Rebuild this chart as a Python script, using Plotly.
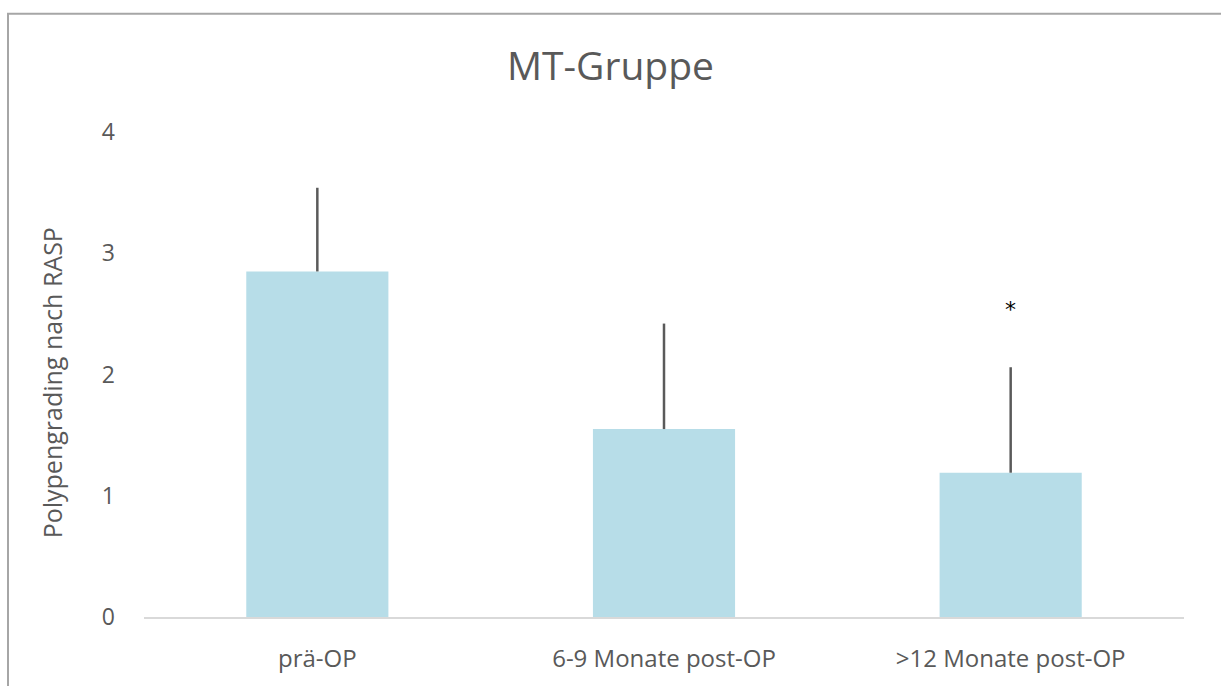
import plotly.graph_objects as go

categories = ["prä-OP", "6-9 Monate post-OP", ">12 Monate post-OP"]
means = [2.85, 1.55, 1.19]
sd_upper = [0.69, 0.87, 0.87]
tick_vals = [0, 1, 2, 3, 4]
star_label = "*"
star_y = 2.54

W, H = 1221, 686
L, R, T, B = 144, 37, 132, 62
plot_w = W - L - R
plot_h = H - T - B

def px_x(px):
    return (px - L) / plot_w

def px_y(py):
    return (H - B - py) / plot_h

FONT = "Open Sans, Lato, sans-serif"

fig = go.Figure()
fig.add_trace(go.Bar(
    x=categories, y=means,
    marker=dict(color="#b7dde8", line=dict(width=0)),
    error_y=dict(type="data", array=sd_upper, arrayminus=[0, 0, 0], symmetric=False,
                 color="#5a5a5a", thickness=2.5, width=0),
    showlegend=False,
))

fig.add_annotation(x=categories[2], y=star_y, text=star_label, showarrow=False,
                   font=dict(size=22, color="#000000", family="DejaVu Sans"))

# y-axis title as rotated annotation
fig.add_annotation(x=px_x(52), y=px_y(387), xref="paper", yref="paper",
                   text="Polypengrading nach RASP", textangle=-90, showarrow=False,
                   xanchor="center", yanchor="middle",
                   font=dict(size=25, color="#595959", family=FONT))

fig.add_shape(type="rect", xref="paper", yref="paper",
              x0=px_x(8), x1=px_x(1240), y0=px_y(760), y1=px_y(12),
              line=dict(color="#a6a6a6", width=2), fillcolor="rgba(0,0,0,0)", layer="below")

fig.update_layout(
    width=W, height=H,
    margin=dict(l=L, r=R, t=T, b=B),
    paper_bgcolor="white", plot_bgcolor="white",
    bargap=0.59,
    font=dict(family=FONT, color="#595959"),
    title=dict(text="MT-Gruppe", x=0.5, xanchor="center", y=1 - 66 / H, yanchor="middle",
               font=dict(size=39, color="#595959", family=FONT)),
    xaxis=dict(showline=True, linecolor="#d9d9d9", linewidth=2, ticks="",
               tickfont=dict(size=24, color="#595959", family=FONT), ticklabelstandoff=19,
               showgrid=False, zeroline=False),
    yaxis=dict(range=[0, 4], tickvals=tick_vals, showgrid=False, zeroline=False,
               showline=False, ticks="", tickfont=dict(size=23, color="#595959", family=FONT),
               ticklabelstandoff=28),
)

fig.write_html("out.html", config={"displayModeBar": False},
               post_script="document.body.style.margin='0';document.body.style.padding='0';document.body.style.overflow='hidden';")
